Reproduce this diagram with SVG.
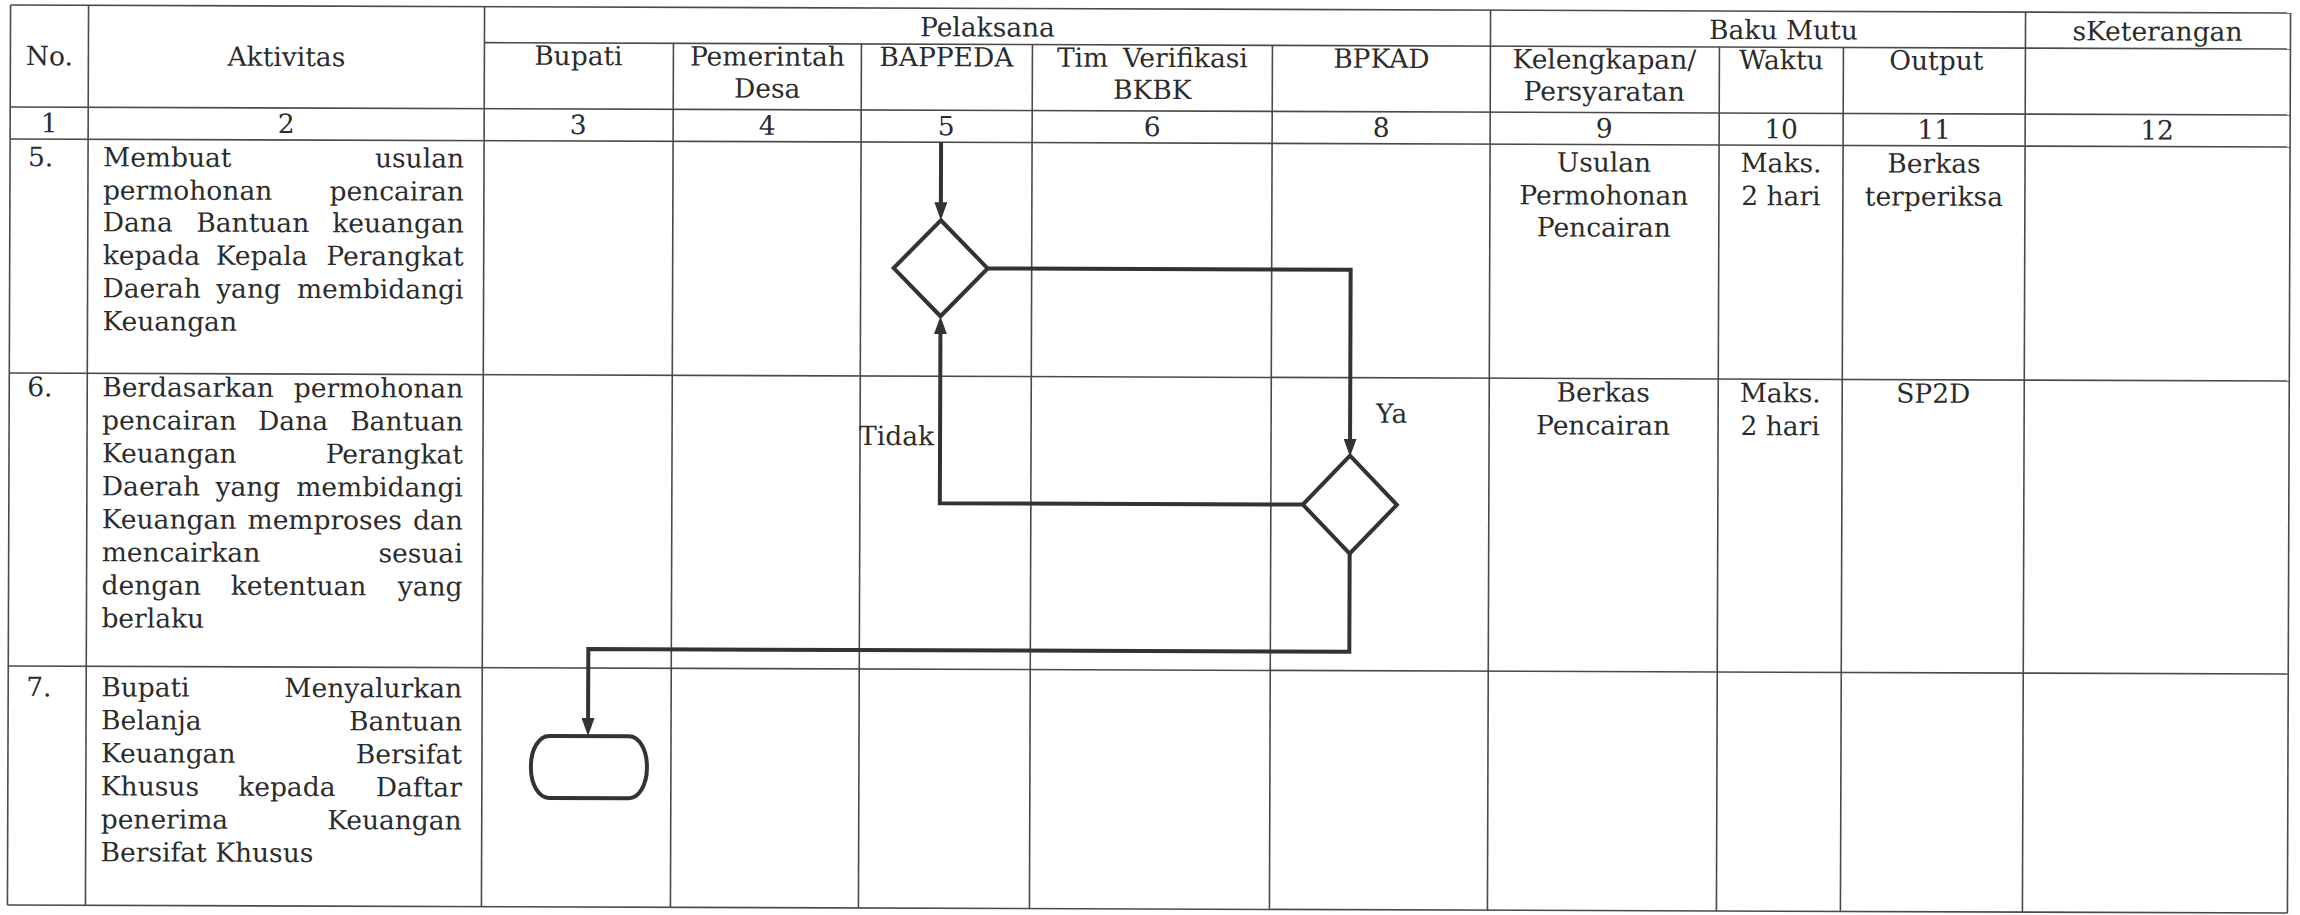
<svg xmlns="http://www.w3.org/2000/svg" width="2300" height="915" viewBox="0 0 2300 915">
<style>
  .grid line { stroke: #4a4a4a; stroke-width: 1.6; }
  text { font-family: "DejaVu Serif", "Liberation Serif", serif; font-size: 26.5px; fill: #2b2b2b; }
  .c { text-anchor: middle; }
  .e { text-anchor: end; }
  .shape { fill: #fff; stroke: #333; stroke-width: 4; stroke-linejoin: miter; }
  .flow { fill: none; stroke: #333; stroke-width: 4; }
</style>
<defs>
  <marker id="ah" viewBox="0 0 18 13" refX="6" refY="6.5" markerWidth="18" markerHeight="13" markerUnits="userSpaceOnUse" orient="auto">
    <path d="M0,0 L18,6.5 L0,13 z" fill="#333"/>
  </marker>
</defs>
<rect width="2300" height="915" fill="#fff"/>
<g transform="rotate(0.2 1150 457)">
  <g id="table" class="grid">
    <line x1="9" y1="9" x2="2289" y2="9"/>
    <line x1="483" y1="45" x2="2289" y2="45"/>
    <line x1="9" y1="111" x2="2289" y2="111"/>
    <line x1="9" y1="143" x2="2289" y2="143"/>
    <line x1="9" y1="377" x2="2289" y2="377"/>
    <line x1="9" y1="670" x2="2289" y2="670"/>
    <line x1="9" y1="909" x2="2289" y2="909"/>
    <line x1="9" y1="9" x2="9" y2="909"/>
    <line x1="87" y1="9" x2="87" y2="909"/>
    <line x1="483" y1="9" x2="483" y2="909"/>
    <line x1="672" y1="45" x2="672" y2="909"/>
    <line x1="860" y1="45" x2="860" y2="909"/>
    <line x1="1031" y1="45" x2="1031" y2="909"/>
    <line x1="1271" y1="45" x2="1271" y2="909"/>
    <line x1="1489" y1="9" x2="1489" y2="909"/>
    <line x1="1718" y1="45" x2="1718" y2="909"/>
    <line x1="1842" y1="45" x2="1842" y2="909"/>
    <line x1="2024" y1="9" x2="2024" y2="909"/>
    <line x1="2289" y1="9" x2="2289" y2="909"/>
  </g>
  <g id="header">
    <text class="c" x="48" y="69">No.</text>
    <text class="c" x="285" y="69">Aktivitas</text>
    <text class="c" x="986" y="37">Pelaksana</text>
    <text class="c" x="1782" y="37">Baku Mutu</text>
    <text class="c" x="2156" y="37">sKeterangan</text>
    <text class="c" x="577" y="67">Bupati</text>
    <text class="c" x="766" y="67">Pemerintah</text>
    <text class="c" x="766" y="99">Desa</text>
    <text class="c" x="945" y="67">BAPPEDA</text>
    <text class="c" x="1151" y="67" word-spacing="6">Tim Verifikasi</text>
    <text class="c" x="1151" y="99">BKBK</text>
    <text class="c" x="1380" y="67">BPKAD</text>
    <text class="c" x="1603" y="67">Kelengkapan/</text>
    <text class="c" x="1603" y="99">Persyaratan</text>
    <text class="c" x="1780" y="67">Waktu</text>
    <text class="c" x="1935" y="67">Output</text>
  </g>
  <g id="numbers">
    <text class="c" x="48" y="136">1</text>
    <text class="c" x="285" y="136">2</text>
    <text class="c" x="577" y="136">3</text>
    <text class="c" x="766" y="136">4</text>
    <text class="c" x="945" y="136">5</text>
    <text class="c" x="1151" y="136">6</text>
    <text class="c" x="1380" y="136">8</text>
    <text class="c" x="1603" y="136">9</text>
    <text class="c" x="1780" y="136">10</text>
    <text class="c" x="1933" y="136">11</text>
    <text class="c" x="2156" y="136">12</text>
  </g>
  <g id="row5">
    <text x="27" y="170">5.</text>
    <text x="102" y="170">Membuat</text><text class="e" x="463" y="170">usulan</text>
    <text x="102" y="203">permohonan</text><text class="e" x="463" y="203">pencairan</text>
    <text x="102" y="235">Dana</text><text class="c" x="252" y="235">Bantuan</text><text class="e" x="463" y="235">keuangan</text>
    <text x="102" y="268">kepada</text><text class="c" x="261" y="268">Kepala</text><text class="e" x="463" y="268">Perangkat</text>
    <text x="102" y="301">Daerah</text><text class="c" x="248" y="301">yang</text><text class="e" x="463" y="301">membidangi</text>
    <text x="102" y="334">Keuangan</text>
    <text class="c" x="1603" y="170">Usulan</text>
    <text class="c" x="1603" y="203">Permohonan</text>
    <text class="c" x="1603" y="235">Pencairan</text>
    <text class="c" x="1780" y="170">Maks.</text>
    <text class="c" x="1780" y="203">2 hari</text>
    <text class="c" x="1933" y="170">Berkas</text>
    <text class="c" x="1933" y="203">terperiksa</text>
  </g>
  <g id="row6">
    <text x="27" y="400">6.</text>
    <text x="102" y="400">Berdasarkan</text><text class="e" x="463" y="400">permohonan</text>
    <text x="102" y="433">pencairan</text><text class="c" x="293" y="433">Dana</text><text class="e" x="463" y="433">Bantuan</text>
    <text x="102" y="466">Keuangan</text><text class="e" x="463" y="466">Perangkat</text>
    <text x="102" y="499">Daerah</text><text class="c" x="248" y="499">yang</text><text class="e" x="463" y="499">membidangi</text>
    <text x="102" y="532">Keuangan</text><text class="c" x="325" y="532">memproses</text><text class="e" x="463" y="532">dan</text>
    <text x="102" y="565">mencairkan</text><text class="e" x="463" y="565">sesuai</text>
    <text x="102" y="598">dengan</text><text class="c" x="299" y="598">ketentuan</text><text class="e" x="463" y="598">yang</text>
    <text x="102" y="631">berlaku</text>
    <text class="c" x="1603" y="400">Berkas</text>
    <text class="c" x="1603" y="433">Pencairan</text>
    <text class="c" x="1780" y="400">Maks.</text>
    <text class="c" x="1780" y="433">2 hari</text>
    <text class="c" x="1933" y="400">SP2D</text>
  </g>
  <g id="row7">
    <text x="27" y="700">7.</text>
    <text x="102" y="700">Bupati</text><text class="e" x="463" y="700">Menyalurkan</text>
    <text x="102" y="733">Belanja</text><text class="e" x="463" y="733">Bantuan</text>
    <text x="102" y="766">Keuangan</text><text class="e" x="463" y="766">Bersifat</text>
    <text x="102" y="799">Khusus</text><text class="c" x="288" y="799">kepada</text><text class="e" x="463" y="799">Daftar</text>
    <text x="102" y="832">penerima</text><text class="e" x="463" y="832">Keuangan</text>
    <text x="102" y="865">Bersifat Khusus</text>
  </g>
  <g id="connectors">
    <path class="flow" d="M940,143 V209" marker-end="url(#ah)"/>
    <path class="flow" d="M987,269 H1350 V444" marker-end="url(#ah)"/>
    <path class="flow" d="M1303,504 H940 V329" marker-end="url(#ah)"/>
    <path class="flow" d="M1350,553 V651 H589 V726" marker-end="url(#ah)"/>
  </g>
  <g id="decision1">
    <polygon class="shape" points="940,221 987,269 940,317 893,269"/>
  </g>
  <g id="decision2">
    <polygon class="shape" points="1350,455 1397,504 1350,553 1303,504"/>
  </g>
  <g id="terminator">
    <rect class="shape" x="532" y="738" width="116" height="62" rx="18" ry="30"/>
  </g>
  <g id="labels">
    <text x="1376" y="422">Ya</text>
    <text x="859" y="446">Tidak</text>
  </g>
</g>
</svg>
